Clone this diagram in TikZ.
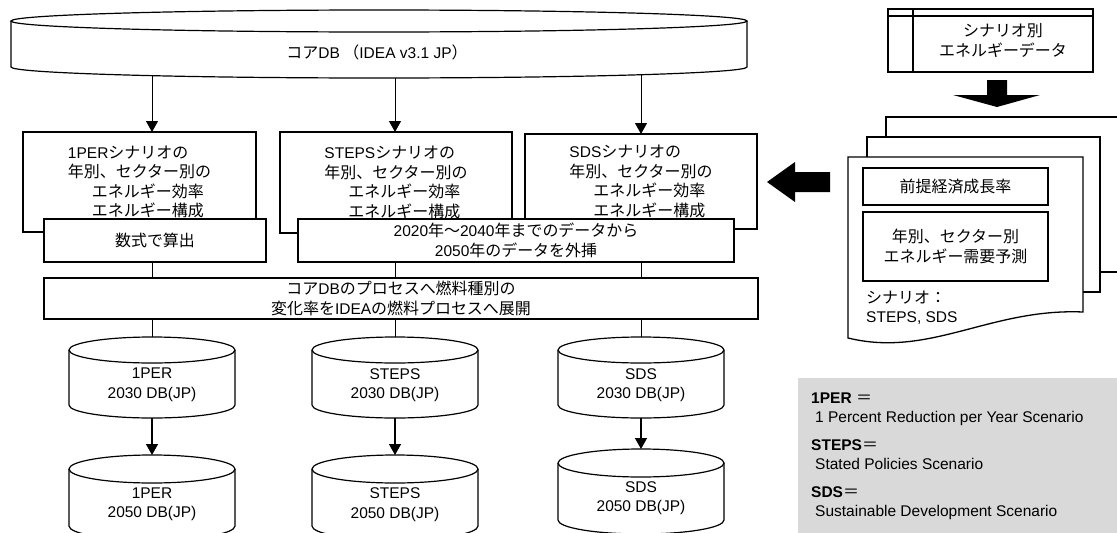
\documentclass[tikz,border=0pt]{standalone}
\usepackage{fontspec}
\setmainfont{Liberation Sans}
\newfontfamily\jpfont{Noto Sans CJK JP}[Scale=1.03]
\usetikzlibrary{arrows.meta}

\definecolor{legendgray}{HTML}{D9D9D9}

\newcommand{\jtext}[1]{{\jpfont #1}}
% database drum: cx, y of top ellipse, y of bottom ellipse, x radius, y radius, name
\newcommand{\dbdrum}[6]{%
  \draw[drumline] ({#1-#4},#2) -- ({#1-#4},#3)
    arc[start angle=180, end angle=0, x radius=#4, y radius=#5] -- ({#1+#4},#2);
  \draw[drumline] (#1,#2) ellipse[x radius=#4, y radius=#5];
  \coordinate (#6-top) at (#1,{#2-#5});
  \coordinate (#6-bot) at (#1,{#3+#5});
}

\begin{document}
\begin{tikzpicture}[x=1pt, y=-1pt, font=\fontsize{15.5}{19.5}\selectfont,
    box/.style={draw, fill=white, line width=1.3pt, align=center, inner sep=0pt, outer sep=0pt},
    dbtext/.style={align=center},
    drumline/.style={line width=1.2pt, fill=white},
    link/.style={line width=1pt},
    flow/.style={line width=1pt, -{Triangle[length=11pt, width=12pt]}}]

\useasboundingbox (0,0) rectangle (1117,533);
\clip (0,0) rectangle (1117,533);

% --- Core DB at the top ---
\dbdrum{379}{21}{67}{368}{11}{core}
\node (coredb) at (377,52) {\jtext{コア}DB\jtext{ （}IDEA v3.1 JP\jtext{）}};

% start points of the arrows on the lower rim
\coordinate (core1) at (152,75.7);
\coordinate (core2) at (395,78);
\coordinate (core3) at (641,74.7);

% --- Scenario boxes ---
\node[box, align=left, minimum width=233pt, minimum height=100pt] (per) at (139.5,182)
  {1PER\jtext{シナリオの}\\ \jtext{年別、セクター別の}\\
   \hspace*{24pt}\jtext{エネルギー効率}\\ \hspace*{24pt}\jtext{エネルギー構成}};
\node[box, align=left, minimum width=232pt, minimum height=101pt] (steps) at (396,182.5)
  {STEPS\jtext{シナリオの}\\ \jtext{年別、セクター別の}\\
   \hspace*{24pt}\jtext{エネルギー効率}\\ \hspace*{24pt}\jtext{エネルギー構成}};
\node[box, align=left, minimum width=232pt, minimum height=95pt] (sds) at (641,181.5)
  {SDS\jtext{シナリオの}\\ \jtext{年別、セクター別の}\\
   \hspace*{24pt}\jtext{エネルギー効率}\\ \hspace*{24pt}\jtext{エネルギー構成}};

\draw[flow] (core1) -- (core1 |- per.north);
\draw[flow] (core2) -- (core2 |- steps.north);
\draw[flow] (core3) -- (core3 |- sds.north);

% --- How the 2050 values are obtained ---
\node[box, minimum width=222pt, minimum height=43pt] (calc) at (155,240.5) {\jtext{数式で算出}};
\node[box, minimum width=436pt, minimum height=43pt] (extrap) at (516,240.5)
  {2020\jtext{年～}2040\jtext{年までのデータから}\\2050\jtext{年のデータを外挿}};

% --- Expansion to the fuel processes ---
\node[box, minimum width=714pt, minimum height=41pt] (expand) at (401,298.5)
  {\jtext{コア}DB\jtext{のプロセスへ燃料種別の}\\ \jtext{変化率を}IDEA\jtext{の燃料プロセスへ展開}};

\draw[link] (core1 |- calc.south) -- (core1 |- expand.north);
\draw[link] (core2 |- extrap.south) -- (core2 |- expand.north);
\draw[link] (core3 |- extrap.south) -- (core3 |- expand.north);

% --- 2030 databases ---
\dbdrum{152}{350}{405}{83}{13}{per30}
\dbdrum{395}{350}{405}{83}{13}{steps30}
\dbdrum{641}{350}{405}{83}{13}{sds30}
\node[dbtext] (per30) at (152,385) {1PER\\2030 DB(JP)};
\node[dbtext] (steps30) at (395,385) {STEPS\\2030 DB(JP)};
\node[dbtext] (sds30) at (641,385) {SDS\\2030 DB(JP)};

\draw[link] (per30-top |- expand.south) -- (per30-top);
\draw[link] (steps30-top |- expand.south) -- (steps30-top);
\draw[link] (sds30-top |- expand.south) -- (sds30-top);

% --- 2050 databases ---
\dbdrum{152}{469}{526}{83}{14}{per50}
\dbdrum{395}{469}{526}{83}{14}{steps50}
\dbdrum{641}{463}{520}{83}{14}{sds50}
\node[dbtext] (per50) at (152,504.5) {1PER\\2050 DB(JP)};
\node[dbtext] (steps50) at (395,504.5) {STEPS\\2050 DB(JP)};
\node[dbtext] (sds50) at (641,498) {SDS\\2050 DB(JP)};

\draw[flow, line width=1.4pt] (per30-bot) -- (per50-top);
\draw[flow, line width=1.4pt] (steps30-bot) -- (steps50-top);
\draw[flow, line width=1.4pt] (sds30-bot) -- (sds50-top);

% --- Scenario energy data (top right) ---
\node[box, minimum width=180pt, minimum height=63pt] (edata) at (1003,40.5)
  {\jtext{シナリオ別}\\ \jtext{エネルギーデータ}};
\draw[line width=1.3pt] (edata.north west) -- ++(-25,0) -- ++(0,63) -- (edata.south west);
\draw[line width=1.3pt] ([xshift=-25pt, yshift=-7pt]edata.north west) -- ([yshift=-7pt]edata.north east);

% block arrow down
\fill (987,80) -- (1007,80) -- (1007,95) -- (1040,95) -- (997,107) -- (953,95) -- (987,95) -- cycle;

% --- Stacked documents ---
\draw[line width=1.3pt, fill=white] (886,117) rectangle (1125,272);
\draw[line width=1.3pt, fill=white] (867,137) rectangle (1100,292);
\draw[line width=1.3pt, fill=white] (848,157) -- (1083,157) -- (1083,312)
  .. controls (990,308) and (930,358) .. (848,338) -- cycle;

\node[box, minimum width=185pt, minimum height=37pt] (growth) at (955.5,186.5) {\jtext{前提経済成長率}};
\node[box, minimum width=185pt, minimum height=69pt] (demand) at (955.5,246.5)
  {\jtext{年別、セクター別}\\ \jtext{エネルギー需要予測}};
\node[anchor=west, align=left, inner sep=0pt] (scen) at (866,307.5) {\jtext{シナリオ：}\\STEPS, SDS};

% block arrow left
\fill (830,172) -- (795,172) -- (795,162) -- (767,182) -- (795,202) -- (795,192) -- (830,192) -- cycle;

% --- Legend ---
\fill[legendgray] (798,378) rectangle (1117,533);
\node[anchor=west, align=left, inner sep=0pt] (legend) at (811,456.5)
  {\textbf{1PER} \jtext{＝}\\ \hspace*{4pt}1 Percent Reduction per Year Scenario\\[8pt]
   \textbf{STEPS}\jtext{＝}\\ \hspace*{4pt}Stated Policies Scenario\\[8pt]
   \textbf{SDS}\jtext{＝}\\ \hspace*{4pt}Sustainable Development Scenario};
\end{tikzpicture}
\end{document}
